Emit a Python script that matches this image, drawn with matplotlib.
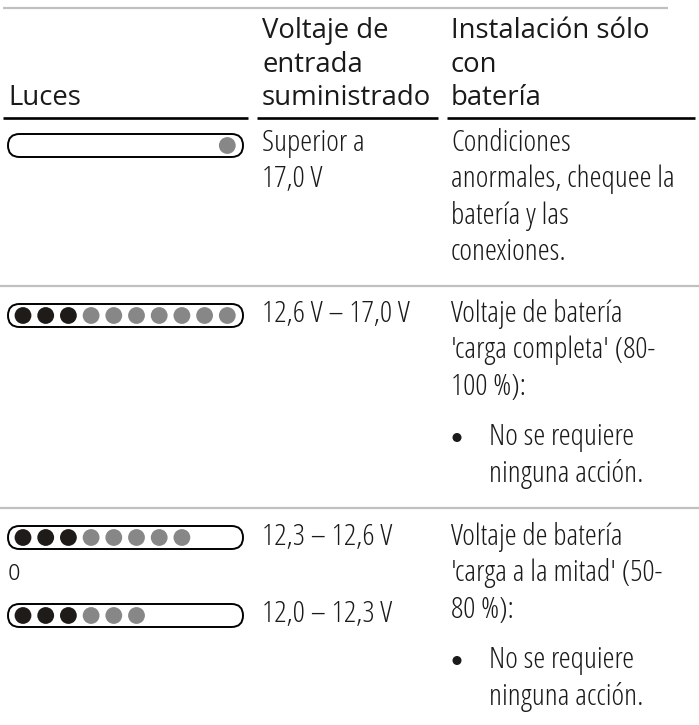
import matplotlib
matplotlib.use("Agg")
import matplotlib.pyplot as plt
from matplotlib.patches import FancyBboxPatch, Circle
from matplotlib import font_manager
from matplotlib.font_manager import FontProperties

# ---------------- data ----------------
header_lights = "Luces"
header_voltage = ["Voltaje de", "entrada", "suministrado"]
header_install = ["Instalación sólo", "con", "batería"]

# LED bar patterns, 10 slots each: d = dark (on), g = grey, . = empty
led_patterns = [".........g", "dddggggggg", "dddggggg..", "dddggg...."]

row1_voltage = ["Superior a", "17,0 V"]
row1_desc = ["Condiciones", "anormales, chequee la", "batería y las", "conexiones."]

row2_voltage = ["12,6 V – 17,0 V"]
row2_desc = ["Voltaje de batería", "'carga completa' (80-", "100 %):"]
row2_bullet = ["No se requiere", "ninguna acción."]

row3_voltage = ["12,3 – 12,6 V", "12,0 – 12,3 V"]
row3_or = "o"
row3_desc = ["Voltaje de batería", "'carga a la mitad' (50-", "80 %):"]
row3_bullet = ["No se requiere", "ninguna acción."]

# ---------------- style ----------------
W, H = 699, 725
TXT = "#1a1a1a"
DARK = "#1f1b19"
GREY = "#878787"
RULE_GREY = "#c0c0c0"


def find_condensed():
    names = ("Liberation Sans Narrow", "Roboto Condensed", "Open Sans Condensed",
             "Noto Sans", "Open Sans", "Noto Sans Display")
    best = None
    for f in font_manager.fontManager.ttflist:
        if f.name not in names or f.style != "normal":
            continue
        st = str(f.stretch)
        generic = f.name in ("Noto Sans", "Open Sans", "Noto Sans Display")
        if generic and st not in ("condensed", "semi-condensed"):
            continue
        try:
            wt = int(f.weight)
        except ValueError:
            wt = {"light": 300, "normal": 400, "regular": 400}.get(str(f.weight), 500)
        if wt not in (300, 400):
            continue
        score = (0 if st == "semi-condensed" else 1,
                 0 if wt == 300 else 1)
        if best is None or score < best[0]:
            best = (score, f.fname)
    return best[1] if best else None


cond = find_condensed()
if cond:
    BODY_FP = FontProperties(fname=cond)
else:
    BODY_FP = FontProperties(family=["Liberation Sans", "DejaVu Sans"])
HEAD_FP = FontProperties(family=["Open Sans", "DejaVu Sans"])

fig = plt.figure(figsize=(W / 100, H / 100), dpi=100)
ax = fig.add_axes([0, 0, 1, 1])
ax.set_xlim(0, W)
ax.set_ylim(H, 0)
ax.axis("off")


def fit_size(fp, s, target_px):
    t = ax.text(0, 0, s, fontproperties=fp, fontsize=10)
    fig.canvas.draw()
    w = t.get_window_extent(renderer=fig.canvas.get_renderer()).width
    t.remove()
    return 10 * target_px / w


BODY_SIZE = fit_size(BODY_FP, "anormales, chequee la", 225)
HEAD_SIZE = fit_size(HEAD_FP, "suministrado", 170)

COL1, COL2, COL3 = 8, 262, 451
BULLET_X, BULLET_TXT = 457, 489


def head(x, y, s):
    ax.text(x, y, s, fontproperties=HEAD_FP, fontsize=HEAD_SIZE, color=TXT,
            va="baseline", ha="left")


def body(x, y, s):
    ax.text(x, y, s, fontproperties=BODY_FP, fontsize=BODY_SIZE, color=TXT,
            va="baseline", ha="left")


def bullet(y):
    ax.add_patch(Circle((BULLET_X, y - 7.5), 4.5, facecolor=TXT, edgecolor="none"))


def lines(x, y0, items, step=36.3):
    for i, s in enumerate(items):
        body(x, y0 + i * step, s)


def led_bar(yc, pattern):
    x0, x1, h = 8, 243, 23
    bar = FancyBboxPatch((x0, yc - h / 2), x1 - x0, h,
                         boxstyle="round,pad=0,rounding_size=11.5",
                         facecolor="white", edgecolor="black", linewidth=1.4, zorder=2)
    ax.add_patch(bar)
    for i, st in enumerate(pattern):
        if st == ".":
            continue
        col = DARK if st == "d" else GREY
        ax.add_patch(Circle((23 + i * 22.7, yc), 8.4, facecolor=col, edgecolor="none", zorder=3))


# rules
ax.plot([3, 668], [8, 8], color=RULE_GREY, lw=1.6, solid_capstyle="butt")
for a, b in [(3, 248), (257, 438), (447, 695)]:
    ax.plot([a, b], [117.5, 117.5], color="black", lw=1.9, solid_capstyle="butt")
for y in (286, 508):
    ax.plot([0, W], [y, y], color=RULE_GREY, lw=1.6, solid_capstyle="butt")

# header
head(COL1, 105, header_lights)
for i, s in enumerate(header_voltage):
    head(COL2, 38 + i * 33.5, s)
for i, s in enumerate(header_install):
    head(COL3, 38 + i * 33.5, s)

# row 1
led_bar(145.5, led_patterns[0])
lines(COL2, 151, row1_voltage)
lines(COL3, 151, row1_desc)

# row 2
led_bar(315.5, led_patterns[1])
lines(COL2, 322, row2_voltage)
lines(COL3, 322, row2_desc)
bullet(445)
lines(BULLET_TXT, 445, row2_bullet, step=37)

# row 3
led_bar(537.5, led_patterns[2])
led_bar(615.5, led_patterns[3])
body(COL2, 545, row3_voltage[0])
body(COL2, 622, row3_voltage[1])
body(COL1, 580, row3_or)
lines(COL3, 545, row3_desc)
bullet(668)
lines(BULLET_TXT, 668, row3_bullet, step=37)

fig.savefig("out.png", dpi=100)
